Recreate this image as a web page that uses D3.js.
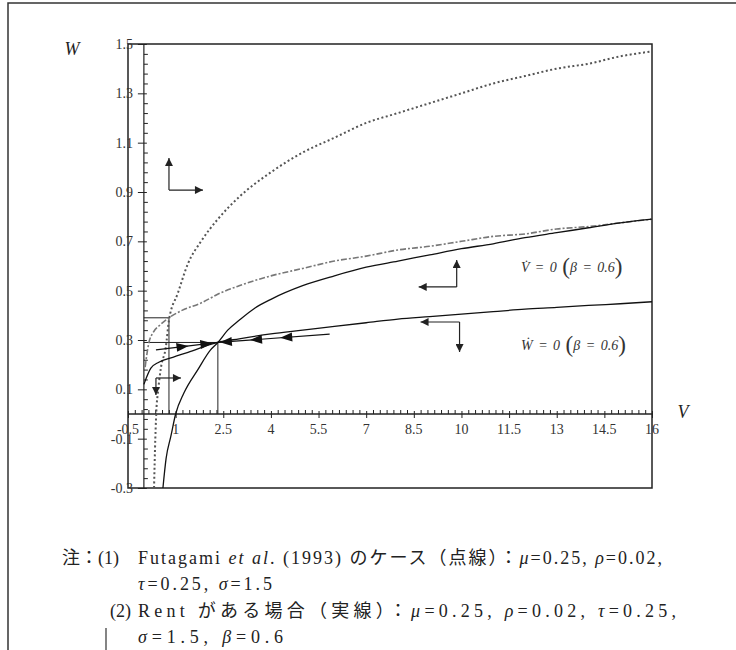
<!DOCTYPE html>
<html>
<head>
<meta charset="utf-8">
<script src="https://cdnjs.cloudflare.com/ajax/libs/d3/7.8.5/d3.min.js"></script>
<style>
  body { margin: 0; background: #fff; }
  text { font-family: "Liberation Serif", "Noto Sans CJK JP", serif; }
</style>
</head>
<body>
<script>
// axis ticks
var xTicks = [-0.5, 1, 2.5, 4, 5.5, 7, 8.5, 10, 11.5, 13, 14.5, 16];
var yTicks = [1.5, 1.3, 1.1, 0.9, 0.7, 0.5, 0.3, 0.1, -0.1, -0.3];

// Futagami et al. (dotted): Vdot = 0 (steep) and Wdot = 0 (dash-dot)
var futagamiV = [[0.32, -0.3], [0.36, -0.1], [0.40, 0.03], [0.44, 0.085], [0.54, 0.19], [0.69, 0.27],
  [0.79, 0.38], [1.07, 0.49], [1.39, 0.61], [1.8, 0.70], [2.33, 0.79], [3, 0.88], [4, 0.98],
  [5, 1.06], [6, 1.12], [7, 1.18], [8, 1.22], [9, 1.26], [10, 1.30], [11, 1.34], [12, 1.37],
  [13, 1.40], [14, 1.42], [15, 1.45], [16, 1.47]];
var futagamiW = [[0.04, 0.19], [0.07, 0.22], [0.16, 0.29], [0.29, 0.33], [0.5, 0.36], [0.79, 0.39],
  [1.2, 0.42], [1.8, 0.45], [2.4, 0.49], [3, 0.52], [4, 0.56], [5, 0.59], [6, 0.62], [7, 0.64],
  [8, 0.665], [9, 0.68], [10, 0.70], [11, 0.72], [12, 0.73], [13, 0.75], [14, 0.76], [15, 0.775],
  [16, 0.79]];

// Rent case (solid): Vdot = 0 and Wdot = 0
var rentV = [[0.6, -0.3], [0.7, -0.18], [0.85, -0.09], [1.0, 0], [1.26, 0.085], [1.7, 0.18],
  [2.1, 0.26], [2.33, 0.29], [2.64, 0.34], [3, 0.38], [3.5, 0.43], [4, 0.465], [5, 0.52],
  [6, 0.56], [7, 0.595], [8, 0.62], [9, 0.645], [10, 0.67], [11, 0.69], [12, 0.715],
  [13, 0.735], [14, 0.755], [15, 0.775], [16, 0.79]];
var rentW = [[0.0, 0.12], [0.22, 0.186], [0.47, 0.21], [0.91, 0.23], [1.39, 0.25], [2.33, 0.29],
  [3, 0.305], [4, 0.325], [5, 0.34], [6, 0.355], [7, 0.37], [8, 0.385], [9, 0.395], [10, 0.405],
  [11, 0.415], [12, 0.425], [13, 0.432], [14, 0.44], [15, 0.447], [16, 0.455]];

// steady states and saddle paths
var steadyRent = [2.33, 0.29];
var steadyFutagami = [0.79, 0.39];
var pathLeft = [[0.38, 0.26], [2.33, 0.29]];
var pathRight = [[5.85, 0.324], [2.33, 0.29]];
var pathLeftArrows = [1.25, 2.0];
var pathRightArrows = [2.55, 3.5, 4.45];

// phase arrows: corner (V, W), horizontal / vertical direction
var phaseArrows = [
  { v: 0.79, w: 0.908, h: 1, k: 1 },
  { v: 0.38, w: 0.146, h: 1, k: -1 },
  { v: 9.85, w: 0.515, h: -1, k: 1 },
  { v: 9.94, w: 0.373, h: -1, k: -1 }
];

var width = 736, height = 650;
var pLeft = 128, pRight = 652, pTop = 44, pBottom = 488;

var svg = d3.select("body")
  .append("svg")
  .attr("width", width)
  .attr("height", height);

var x = d3.scaleLinear().domain([-0.5, 16]).range([pLeft, pRight]);
var y = d3.scaleLinear().domain([-0.3, 1.5]).range([pBottom, pTop]);

var defs = svg.append("defs");
defs.append("clipPath")
  .attr("id", "plot")
  .append("rect")
  .attr("x", pLeft).attr("y", pTop - 10)
  .attr("width", pRight - pLeft + 6).attr("height", pBottom - pTop + 10);

var mk = defs.append("marker")
  .attr("id", "arrow")
  .attr("viewBox", "0 0 10 10")
  .attr("refX", 10).attr("refY", 5)
  .attr("markerWidth", 10).attr("markerHeight", 8)
  .attr("markerUnits", "userSpaceOnUse")
  .attr("orient", "auto");
mk.append("path").attr("d", "M0,0L10,5L0,10z").attr("fill", "#222");

// outer border
svg.append("path")
  .attr("d", "M8,650V3H736")
  .attr("fill", "none").attr("stroke", "#333").attr("stroke-width", 1.5);
svg.append("line")
  .attr("x1", 106).attr("x2", 106).attr("y1", 628).attr("y2", 650)
  .attr("stroke", "#333").attr("stroke-width", 1.2);

// plot frame
svg.append("rect")
  .attr("x", pLeft).attr("y", pTop)
  .attr("width", pRight - pLeft).attr("height", pBottom - pTop)
  .attr("fill", "none").attr("stroke", "#222").attr("stroke-width", 1.5);

// x axis at W = 0
var xMinor = [];
for (var i = 0; i < xTicks.length - 1; i++) {
  for (var j = 1; j < 7; j++) xMinor.push(xTicks[i] + j * 1.5 / 7);
}
var xAxisG = svg.append("g").attr("transform", "translate(0," + y(0) + ")");
xAxisG.append("g").call(d3.axisBottom(x).tickValues(xMinor).tickSize(-4).tickFormat(""));
xAxisG.append("g").call(d3.axisBottom(x).tickValues(xTicks).tickSize(4).tickFormat(""))
  .selectAll("g.tick line").attr("y1", -3);
xAxisG.selectAll(".domain").remove();
xAxisG.append("line").attr("x1", pLeft).attr("x2", pRight)
  .attr("stroke", "#222").attr("stroke-width", 1.3);
xAxisG.selectAll("line").attr("stroke", "#222");

svg.append("g").selectAll("text")
  .data(xTicks)
  .enter()
  .append("text")
  .attr("x", function (d) { return x(d); })
  .attr("y", y(0) + 20)
  .attr("text-anchor", "middle")
  .attr("font-size", 14)
  .attr("fill", "#333")
  .text(function (d) { return d; });

// y axis at V = 0
var yMinor = [];
for (var i = 0; i < yTicks.length - 1; i++) {
  for (var j = 1; j < 5; j++) yMinor.push(yTicks[i] - j * 0.04);
}
var yAxisG = svg.append("g").attr("transform", "translate(" + x(0) + ",0)");
yAxisG.append("g").call(d3.axisLeft(y).tickValues(yMinor).tickSize(-4).tickFormat(""));
yAxisG.append("g").call(d3.axisLeft(y).tickValues(yTicks).tickSize(6).tickFormat(""))
  .selectAll("g.tick line").attr("x1", 3);
yAxisG.selectAll(".domain").remove();
yAxisG.append("line").attr("y1", pTop).attr("y2", pBottom)
  .attr("stroke", "#222").attr("stroke-width", 1.2);
yAxisG.selectAll("line").attr("stroke", "#222");

svg.append("g").selectAll("text")
  .data(yTicks)
  .enter()
  .append("text")
  .attr("x", 133)
  .attr("y", function (d) { return y(d) + 5; })
  .attr("text-anchor", "end")
  .attr("font-size", 14)
  .attr("fill", "#333")
  .text(function (d) { return d; });

svg.append("text").attr("x", 72).attr("y", 55).attr("text-anchor", "middle")
  .attr("font-size", 18).attr("font-style", "italic").attr("fill", "#222").text("W");
svg.append("text").attr("x", 683).attr("y", 418).attr("text-anchor", "middle")
  .attr("font-size", 18).attr("font-style", "italic").attr("fill", "#222").text("V");

// steady state guide lines
function guide(p) {
  svg.append("path")
    .attr("d", "M" + x(0) + "," + y(p[1]) + "H" + x(p[0]) + "V" + y(0))
    .attr("fill", "none").attr("stroke", "#222").attr("stroke-width", 1);
}
guide(steadyFutagami);
guide(steadyRent);

var line = d3.line()
  .x(function (d) { return x(d[0]); })
  .y(function (d) { return y(d[1]); })
  .curve(d3.curveMonotoneX);

var curves = svg.append("g").attr("clip-path", "url(#plot)");

curves.append("path").datum(futagamiW).attr("d", line)
  .attr("fill", "none").attr("stroke", "#777").attr("stroke-width", 1.6)
  .attr("stroke-dasharray", "6,2,2,2");
curves.append("path").datum(futagamiV).attr("d", line)
  .attr("fill", "none").attr("stroke", "#555").attr("stroke-width", 2)
  .attr("stroke-dasharray", "2,2.5");
curves.append("path").datum(rentV).attr("d", line)
  .attr("fill", "none").attr("stroke", "#111").attr("stroke-width", 1.3);
curves.append("path").datum(rentW).attr("d", line)
  .attr("fill", "none").attr("stroke", "#111").attr("stroke-width", 1.3);

// saddle paths with arrowheads
function saddle(seg, at) {
  svg.append("line")
    .attr("x1", x(seg[0][0])).attr("y1", y(seg[0][1]))
    .attr("x2", x(seg[1][0])).attr("y2", y(seg[1][1]))
    .attr("stroke", "#111").attr("stroke-width", 1.2);
  var ang = Math.atan2(y(seg[1][1]) - y(seg[0][1]), x(seg[1][0]) - x(seg[0][0])) * 180 / Math.PI;
  at.forEach(function (v) {
    var t = (v - seg[0][0]) / (seg[1][0] - seg[0][0]);
    var w = seg[0][1] + t * (seg[1][1] - seg[0][1]);
    svg.append("path")
      .attr("d", "M5,0L-7,-4.5L-7,4.5z")
      .attr("fill", "#111")
      .attr("transform", "translate(" + x(v) + "," + y(w) + ") rotate(" + ang + ")");
  });
}
saddle(pathLeft, pathLeftArrows);
saddle(pathRight, pathRightArrows);

// phase direction arrows
var hLen = [34, 25, 38, 39], vLen = [32, 17, 27, 30];
phaseArrows.forEach(function (a, i) {
  var cx = x(a.v), cy = y(a.w);
  svg.append("line").attr("x1", cx).attr("y1", cy)
    .attr("x2", cx + a.h * hLen[i]).attr("y2", cy)
    .attr("stroke", "#222").attr("stroke-width", 1.2).attr("marker-end", "url(#arrow)");
  svg.append("line").attr("x1", cx).attr("y1", cy)
    .attr("x2", cx).attr("y2", cy - a.k * vLen[i])
    .attr("stroke", "#222").attr("stroke-width", 1.2).attr("marker-end", "url(#arrow)");
});

// curve labels
function curveLabel(sym, ty) {
  var t = svg.append("text").attr("x", 521).attr("y", ty).attr("fill", "#333")
    .attr("font-size", 14).attr("word-spacing", 2);
  t.append("tspan").attr("font-style", "italic").text(sym + "\u0307 = 0 ");
  t.append("tspan").attr("font-size", 23).attr("dy", 2).text("(");
  t.append("tspan").attr("font-style", "italic").attr("dy", -2).text("\u03b2 = 0.6");
  t.append("tspan").attr("font-size", 23).attr("dy", 2).text(")");
}
curveLabel("V", 272);
curveLabel("W", 350);

// notes
var noteSize = 18;
function note(xp, yp, parts, len) {
  var t = svg.append("text").attr("x", xp).attr("y", yp)
    .attr("font-size", noteSize).attr("fill", "#222");
  parts.forEach(function (p) {
    var s = t.append("tspan").text(p[0]);
    if (p[1]) s.attr("font-style", "italic");
  });
  if (len) t.attr("textLength", len).attr("lengthAdjust", "spacing");
}
note(62, 564, [["注：(1)"]]);
note(138, 564, [["Futagami "], ["et al", 1], [". (1993) のケース（点線）："], ["\u03bc", 1], ["=0.25,  "],
  ["\u03c1", 1], ["=0.02,"]], 524);
note(138, 590, [["\u03c4", 1], ["=0.25,  "], ["\u03c3", 1], ["=1.5"]], 134);
note(110, 617, [["(2)"]]);
note(138, 617, [["Rent がある場合（実線）："], ["\u03bc", 1], ["=0.25,  "], ["\u03c1", 1], ["=0.02,  "],
  ["\u03c4", 1], ["=0.25,"]], 538);
note(138, 643, [["\u03c3", 1], ["=1.5,  "], ["\u03b2", 1], ["=0.6"]], 145);
</script>
</body>
</html>
